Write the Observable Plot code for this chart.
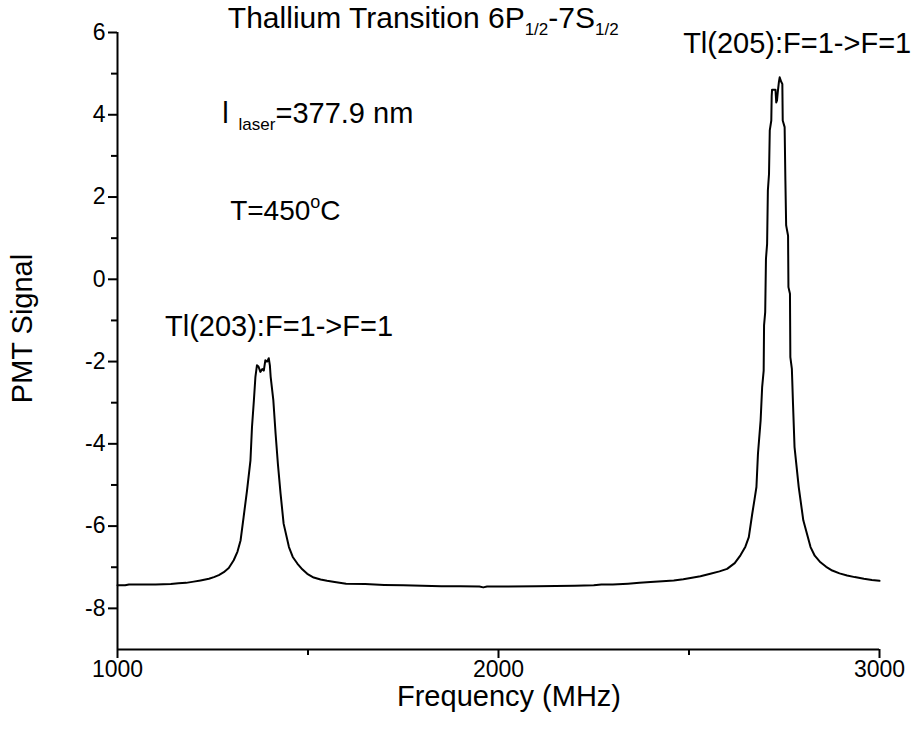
<!DOCTYPE html>
<html><head><meta charset="utf-8">
<script src="https://cdn.jsdelivr.net/npm/d3@7"></script>
<script src="https://cdn.jsdelivr.net/npm/@observablehq/plot@0.6"></script>
<style>body{margin:0;background:#fff}</style>
</head><body><div id="chart"></div>
<script>
// Frequency (MHz) and PMT signal
const freq = [1000,1020,1030,1050,1100,1140,1160,1180,1200,1218,1240,1253,1266,1279,1292,1305,1315,1323,1331,1340,1349,1353,1358,1362,1366,1370,1375,1380,1384,1388,1393,1397,1400,1402,1409,1415,1421,1428,1436,1450,1460,1472,1485,1498,1515,1533,1550,1570,1600,1650,1700,1750,1800,1850,1900,1950,1960,1970,2000,2100,2200,2250,2270,2300,2340,2370,2399,2430,2460,2485,2504,2530,2556,2580,2600,2620,2635,2648,2657,2666,2672,2677,2681,2688,2692,2696,2697,2700,2702,2705,2707,2710,2712,2716,2717,2718,2727,2729,2731,2733,2736,2738,2742,2745,2746,2751,2753,2755,2760,2761,2765,2766,2770,2771,2773,2777,2788,2800,2819,2830,2845,2860,2876,2895,2915,2935,2959,2980,3000];
const signal = [-7.44,-7.44,-7.42,-7.42,-7.42,-7.41,-7.39,-7.38,-7.35,-7.32,-7.28,-7.24,-7.19,-7.12,-7.02,-6.83,-6.62,-6.35,-5.78,-5.13,-4.40,-3.59,-2.94,-2.37,-2.09,-2.12,-2.25,-2.18,-2.22,-1.97,-2.00,-1.92,-2.10,-2.37,-2.94,-3.76,-4.49,-5.21,-5.94,-6.51,-6.75,-6.91,-7.05,-7.16,-7.25,-7.30,-7.33,-7.36,-7.40,-7.41,-7.43,-7.44,-7.45,-7.46,-7.46,-7.47,-7.49,-7.47,-7.47,-7.46,-7.45,-7.44,-7.42,-7.42,-7.40,-7.38,-7.36,-7.34,-7.32,-7.29,-7.26,-7.22,-7.16,-7.10,-7.04,-6.90,-6.71,-6.50,-6.27,-5.70,-5.35,-5.05,-4.24,-3.43,-2.62,-2.22,-1.12,-0.80,0.50,0.86,2.16,2.56,3.62,3.86,4.45,4.61,4.61,4.30,4.35,4.55,4.80,4.91,4.80,4.75,3.86,3.70,2.40,1.31,1.06,-0.19,-0.35,-1.89,-2.18,-2.46,-3.03,-4.08,-5.05,-5.86,-6.51,-6.72,-6.88,-6.99,-7.08,-7.15,-7.20,-7.24,-7.28,-7.31,-7.33];

const xTicks = [1000, 2000, 3000];
const xMinorTicks = [1500, 2500];
const yTicks = [-8, -6, -4, -2, 0, 2, 4, 6];
const yMinorTicks = [-7, -5, -3, -1, 1, 3, 5];
const xLabel = "Frequency (MHz)";
const yLabel = "PMT Signal";

// annotations: text pieces (role: main / sub / sup) and anchor in data units
const titleParts = [["Thallium Transition 6P","main"],["1/2","sub"],["-7S","main"],["1/2","sub"]];
const titlePos = [1291, 6.10];
const peak205Parts = [["Tl(205):F=1->F=1","main"]];
const peak205Pos = [2486, 5.50];
const lambdaParts = [["l","main"],["laser","sub"],["=377.9 nm","main"]];
const lambdaPos = [1276, 3.79];
const tempParts = [["T=450","main"],["o","sup"],["C","main"]];
const tempPos = [1297, 1.43];
const peak203Parts = [["Tl(203):F=1->F=1","main"]];
const peak203Pos = [1126, -1.38];

const data = freq.map((f, i) => ({f, v: signal[i]}));
const FONT = "'Liberation Sans', Arial, sans-serif";

const chart = Plot.plot({
  width: 913, height: 744,
  marginLeft: 117, marginRight: 34, marginTop: 32, marginBottom: 95,
  style: {fontFamily: FONT, background: "#fff", color: "#000"},
  x: {domain: [1000, 3000]},
  y: {domain: [-9, 6]},
  marks: [
    Plot.line(data, {x: "f", y: "v", stroke: "#000", strokeWidth: 2}),
    Plot.ruleX([1000], {stroke: "#000", strokeWidth: 2}),
    Plot.ruleY([-9], {stroke: "#000", strokeWidth: 2}),
    Plot.axisX({ticks: xTicks, tickSize: 9, tickPadding: 2, tickFormat: d => String(d), fontSize: 23, label: null, strokeWidth: 2}),
    Plot.axisX({ticks: xMinorTicks, tickSize: 6, tickFormat: () => "", label: null, strokeWidth: 2}),
    Plot.axisY({ticks: yTicks, tickSize: 9, tickPadding: 3, tickFormat: d => String(d), fontSize: 23, label: null, strokeWidth: 2}),
    Plot.axisY({ticks: yMinorTicks, tickSize: 6, tickFormat: () => "", label: null, strokeWidth: 2})
  ]
});
document.getElementById("chart").appendChild(chart);

const X = chart.scale("x"), Y = chart.scale("y");
const svg = d3.select(chart);
const [x0, x1] = X.range, [y0, y1] = Y.range;

// axis titles
svg.append("text").attr("text-anchor", "middle").attr("fill", "#000")
  .style("font-family", FONT).attr("font-size", 29)
  .attr("x", (x0 + x1) / 2 + 11).attr("y", y0 + 57)
  .text(xLabel);
svg.append("text").attr("text-anchor", "middle").attr("fill", "#000")
  .style("font-family", FONT).attr("font-size", 29)
  .attr("transform", `translate(${x0 - 85},${(y0 + y1) / 2 - 12}) rotate(-90)`)
  .text(yLabel);

const sizes = {main: 29, sub: 17, sup: 18};
const shifts = {main: 0, sub: 7, sup: -12};
const gaps = {laser: 10};
function annotate(parts, pos, mainSize) {
  const t = svg.append("text").attr("text-anchor", "start")
    .attr("x", X.apply(pos[0])).attr("y", Y.apply(pos[1]))
    .attr("fill", "#000").style("font-family", FONT);
  let prev = 0;
  for (const [s, role] of parts) {
    const shift = shifts[role];
    t.append("tspan").attr("font-size", role === "main" ? mainSize : sizes[role])
      .attr("dy", shift - prev).attr("dx", gaps[s] || 0).text(s);
    prev = shift;
  }
}
annotate(titleParts, titlePos, 30);
annotate(peak205Parts, peak205Pos, 29);
annotate(lambdaParts, lambdaPos, 29);
annotate(tempParts, tempPos, 28);
annotate(peak203Parts, peak203Pos, 29);
</script>
</body></html>
